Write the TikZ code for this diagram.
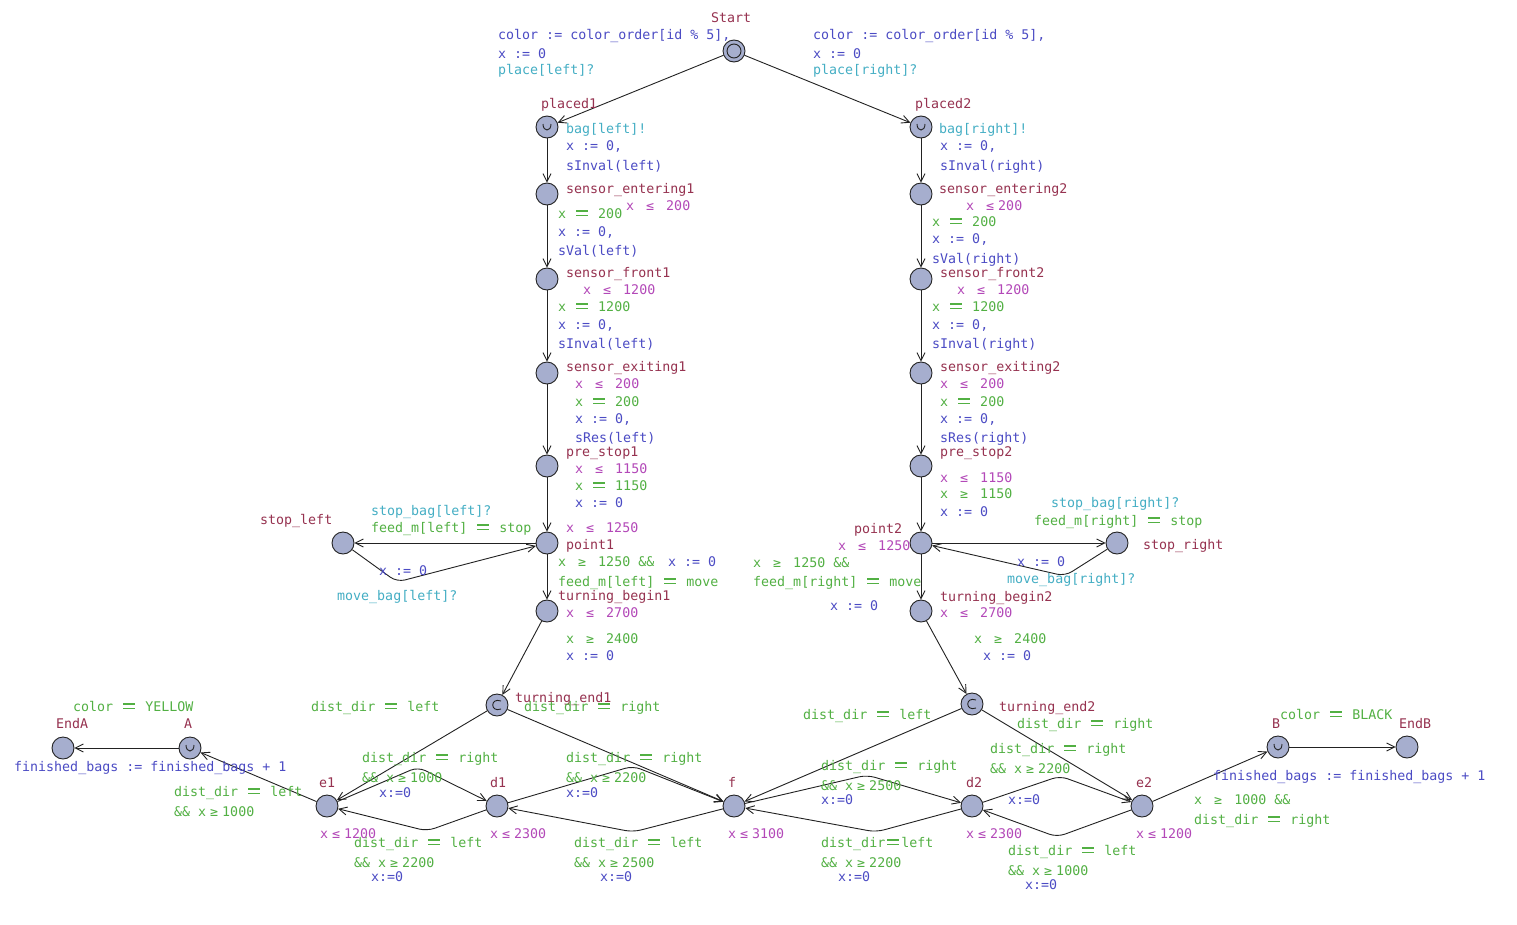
\documentclass[tikz,border=0pt]{standalone}
\usepackage{fontspec}
\newfontfamily\uppfont{DejaVu Sans Mono}
\usetikzlibrary{arrows.meta,calc}

\definecolor{namec}{HTML}{963250}
\definecolor{invc}{HTML}{B348B8}
\definecolor{grdc}{HTML}{52B043}
\definecolor{updc}{HTML}{4B4BC4}
\definecolor{sync}{HTML}{44AEC4}
\definecolor{locfill}{HTML}{A6AECE}
\definecolor{linec}{HTML}{222222}

% two-cell wide operators of the monospace label font
\newcommand\LEQ{\makebox[1.204em]{≤}}
\newcommand\GEQ{\makebox[1.204em]{≥}}
\newcommand\EQQ{\makebox[1.204em]{\rlap{\raisebox{0.17em}{\rule{0.9em}{0.09em}}}\raisebox{0.48em}{\rule{0.9em}{0.09em}}}}

% text labels: \tlabel{style}{left x}{middle y}{text}
\newcounter{lbl}
\newcommand\tlabelput[5]{\node[txt,#2] (#1) at ({#3},{#4+4}) {#5};}
\newcommand\tlabel[4]{\stepcounter{lbl}\edef\lbname{t\arabic{lbl}}\expandafter\tlabelput\expandafter{\lbname}{#1}{#2}{#3}{#4}}

% urgent (U) and committed (C) marks
\newcommand\urg[1]{\draw[sym] ($(#1)+(-4,-3)$) .. controls ($(#1)+(-4,5)$) and ($(#1)+(4,5)$) .. ($(#1)+(4,-3)$);}
\newcommand\cmt[1]{\draw[sym] ($(#1)+(4,-4)$) .. controls ($(#1)+(-7,-8)$) and ($(#1)+(-7,8)$) .. ($(#1)+(4,4)$);}

\tikzset{
  txt/.style={anchor=base west, inner sep=0pt, font=\uppfont\fontsize{13.3}{15}\selectfont},
  nm/.style={text=namec},
  inv/.style={text=invc},
  grd/.style={text=grdc},
  upd/.style={text=updc},
  syn/.style={text=sync},
  loc/.style={circle, draw=linec, line width=0.9pt, fill=locfill, minimum size=22pt, inner sep=0pt},
  sym/.style={draw=linec, line width=0.9pt},
  trans/.style={draw=linec, line width=0.9pt, rounded corners=8pt,
    -{Straight Barb[length=8pt,width=8pt,line width=0.9pt]}},
}

\begin{document}
\begin{tikzpicture}[x=1pt,y=-1pt]
\fill[white] (0,0) rectangle (1517,924);
\useasboundingbox (0,0) rectangle (1517,924);

% ---------- locations ----------
\node[loc] (start) at (734,51) {};
\draw[sym] (start.center) circle [radius=7];
\node[loc] (placed1) at (547,127) {};
\node[loc] (placed2) at (921,127) {};
\node[loc] (sent1) at (547,194) {};
\node[loc] (sent2) at (921,194) {};
\node[loc] (sfr1) at (547,279) {};
\node[loc] (sfr2) at (921,279) {};
\node[loc] (sex1) at (547,373) {};
\node[loc] (sex2) at (921,373) {};
\node[loc] (pre1) at (547,466) {};
\node[loc] (pre2) at (921,466) {};
\node[loc] (pt1) at (547,543) {};
\node[loc] (pt2) at (921,543) {};
\node[loc] (stopL) at (343,543) {};
\node[loc] (stopR) at (1117,543) {};
\node[loc] (tb1) at (547,611) {};
\node[loc] (tb2) at (921,611) {};
\node[loc] (te1) at (497,705) {};
\node[loc] (te2) at (972,704) {};
\node[loc] (e1) at (327,806) {};
\node[loc] (d1) at (497,806) {};
\node[loc] (f) at (734,806) {};
\node[loc] (d2) at (972,806) {};
\node[loc] (e2) at (1142,806) {};
\node[loc] (A) at (190,748) {};
\node[loc] (endA) at (63,748) {};
\node[loc] (B) at (1278,747) {};
\node[loc] (endB) at (1407,747) {};

\urg{placed1} \urg{placed2} \urg{A} \urg{B}
\cmt{te1} \cmt{te2}

% ---------- nails ----------
\coordinate (nL) at (397,582);
\coordinate (nR) at (1065,576);
\coordinate (ned) at (418,767);
\coordinate (nde) at (427,831);
\coordinate (ndf) at (633,766);
\coordinate (nfd) at (633,832);
\coordinate (nfd2) at (867,775);
\coordinate (ndf2) at (876,832);
\coordinate (nde2) at (1060,776);
\coordinate (ned2) at (1057,837);

% ---------- transitions ----------
\draw[trans] (start) -- (placed1);
\draw[trans] (start) -- (placed2);
\draw[trans] (placed1) -- (sent1);
\draw[trans] (sent1) -- (sfr1);
\draw[trans] (sfr1) -- (sex1);
\draw[trans] (sex1) -- (pre1);
\draw[trans] (pre1) -- (pt1);
\draw[trans] (pt1) -- (tb1);
\draw[trans] (tb1) -- (te1);
\draw[trans] (placed2) -- (sent2);
\draw[trans] (sent2) -- (sfr2);
\draw[trans] (sfr2) -- (sex2);
\draw[trans] (sex2) -- (pre2);
\draw[trans] (pre2) -- (pt2);
\draw[trans] (pt2) -- (tb2);
\draw[trans] (tb2) -- (te2);
\draw[trans] (pt1) -- (stopL);
\draw[trans] (stopL) -- (nL) -- (pt1);
\draw[trans] (pt2) -- (stopR);
\draw[trans] (stopR) -- (nR) -- (pt2);
\draw[trans] (te1) -- (e1);
\draw[trans] (te1) -- (f);
\draw[trans] (e1) -- (ned) -- (d1);
\draw[trans] (d1) -- (nde) -- (e1);
\draw[trans] (d1) -- (ndf) -- (f);
\draw[trans] (f) -- (nfd) -- (d1);
\draw[trans] (te2) -- (f);
\draw[trans] (te2) -- (e2);
\draw[trans] (f) -- (nfd2) -- (d2);
\draw[trans] (d2) -- (ndf2) -- (f);
\draw[trans] (d2) -- (nde2) -- (e2);
\draw[trans] (e2) -- (ned2) -- (d2);
\draw[trans] (e1) -- (A);
\draw[trans] (A) -- (endA);
\draw[trans] (e2) -- (B);
\draw[trans] (B) -- (endB);

% ---------- labels: start ----------
\tlabel{nm}{711}{18}{Start}
\tlabel{upd}{498}{35}{color := color\_order[id \% 5],}
\tlabel{upd}{498}{54}{x := 0}
\tlabel{syn}{498}{70}{place[left]?}
\tlabel{upd}{813}{35}{color := color\_order[id \% 5],}
\tlabel{upd}{813}{54}{x := 0}
\tlabel{syn}{813}{70}{place[right]?}

% ---------- labels: left belt ----------
\tlabel{nm}{541}{104}{placed1}
\tlabel{syn}{566}{129}{bag[left]!}
\tlabel{upd}{566}{146}{x := 0,}
\tlabel{upd}{566}{166}{sInval(left)}
\tlabel{nm}{566}{189}{sensor\_entering1}
\tlabel{inv}{626}{206}{x \LEQ{} 200}
\tlabel{grd}{558}{214}{x \EQQ{} 200}
\tlabel{upd}{558}{232}{x := 0,}
\tlabel{upd}{558}{251}{sVal(left)}
\tlabel{nm}{566}{273}{sensor\_front1}
\tlabel{inv}{583}{290}{x \LEQ{} 1200}
\tlabel{grd}{558}{307}{x \EQQ{} 1200}
\tlabel{upd}{558}{325}{x := 0,}
\tlabel{upd}{558}{344}{sInval(left)}
\tlabel{nm}{566}{367}{sensor\_exiting1}
\tlabel{inv}{575}{384}{x \LEQ{} 200}
\tlabel{grd}{575}{402}{x \EQQ{} 200}
\tlabel{upd}{575}{419}{x := 0,}
\tlabel{upd}{575}{438}{sRes(left)}
\tlabel{nm}{566}{452}{pre\_stop1}
\tlabel{inv}{575}{469}{x \LEQ{} 1150}
\tlabel{grd}{575}{486}{x \EQQ{} 1150}
\tlabel{upd}{575}{503}{x := 0}
\tlabel{inv}{566}{528}{x \LEQ{} 1250}
\tlabel{nm}{566}{545}{point1}
\tlabel{grd}{558}{562}{x \GEQ{} 1250 \&\&}
\tlabel{upd}{668}{562}{x := 0}
\tlabel{grd}{558}{582}{feed\_m[left] \EQQ{} move}
\tlabel{nm}{558}{596}{turning\_begin1}
\tlabel{inv}{566}{613}{x \LEQ{} 2700}
\tlabel{grd}{566}{639}{x \GEQ{} 2400}
\tlabel{upd}{566}{656}{x := 0}
\tlabel{nm}{260}{520}{stop\_left}
\tlabel{syn}{371}{511}{stop\_bag[left]?}
\tlabel{grd}{371}{528}{feed\_m[left] \EQQ{} stop}
\tlabel{upd}{379}{571}{x := 0}
\tlabel{syn}{337}{596}{move\_bag[left]?}

% ---------- labels: right belt ----------
\tlabel{nm}{915}{104}{placed2}
\tlabel{syn}{939}{129}{bag[right]!}
\tlabel{upd}{940}{146}{x := 0,}
\tlabel{upd}{940}{166}{sInval(right)}
\tlabel{nm}{939}{189}{sensor\_entering2}
\tlabel{inv}{966}{206}{x \LEQ{}200}
\tlabel{grd}{932}{222}{x \EQQ{} 200}
\tlabel{upd}{932}{239}{x := 0,}
\tlabel{upd}{932}{259}{sVal(right)}
\tlabel{nm}{940}{273}{sensor\_front2}
\tlabel{inv}{957}{290}{x \LEQ{} 1200}
\tlabel{grd}{932}{307}{x \EQQ{} 1200}
\tlabel{upd}{932}{325}{x := 0,}
\tlabel{upd}{932}{344}{sInval(right)}
\tlabel{nm}{940}{367}{sensor\_exiting2}
\tlabel{inv}{940}{384}{x \LEQ{} 200}
\tlabel{grd}{940}{402}{x \EQQ{} 200}
\tlabel{upd}{940}{419}{x := 0,}
\tlabel{upd}{940}{438}{sRes(right)}
\tlabel{nm}{940}{452}{pre\_stop2}
\tlabel{inv}{940}{478}{x \LEQ{} 1150}
\tlabel{grd}{940}{494}{x \GEQ{} 1150}
\tlabel{upd}{940}{512}{x := 0}
\tlabel{nm}{854}{529}{point2}
\tlabel{inv}{838}{546}{x \LEQ{} 1250}
\tlabel{grd}{753}{563}{x \GEQ{} 1250 \&\&}
\tlabel{grd}{753}{582}{feed\_m[right] \EQQ{} move}
\tlabel{upd}{830}{606}{x := 0}
\tlabel{nm}{940}{597}{turning\_begin2}
\tlabel{inv}{940}{613}{x \LEQ{} 2700}
\tlabel{grd}{974}{639}{x \GEQ{} 2400}
\tlabel{upd}{983}{656}{x := 0}
\tlabel{syn}{1051}{503}{stop\_bag[right]?}
\tlabel{grd}{1034}{521}{feed\_m[right] \EQQ{} stop}
\tlabel{nm}{1143}{545}{stop\_right}
\tlabel{upd}{1017}{562}{x := 0}
\tlabel{syn}{1007}{579}{move\_bag[right]?}

% ---------- labels: left turn ----------
\tlabel{nm}{515}{698}{turning\_end1}
\tlabel{grd}{524}{707}{dist\_dir \EQQ{} right}
\tlabel{grd}{311}{707}{dist\_dir \EQQ{} left}
\tlabel{grd}{362}{758}{dist\_dir \EQQ{} right}
\tlabel{grd}{362}{778}{\&\& x\GEQ{}1000}
\tlabel{upd}{379}{793}{x:=0}
\tlabel{nm}{319}{783}{e1}
\tlabel{nm}{490}{783}{d1}
\tlabel{inv}{320}{834}{x\LEQ{}1200}
\tlabel{grd}{354}{843}{dist\_dir \EQQ{} left}
\tlabel{grd}{354}{863}{\&\& x\GEQ{}2200}
\tlabel{upd}{371}{877}{x:=0}
\tlabel{inv}{490}{834}{x\LEQ{}2300}
\tlabel{grd}{566}{758}{dist\_dir \EQQ{} right}
\tlabel{grd}{566}{778}{\&\& x\GEQ{}2200}
\tlabel{upd}{566}{793}{x:=0}
\tlabel{nm}{728}{783}{f}
\tlabel{inv}{728}{834}{x\LEQ{}3100}
\tlabel{grd}{574}{843}{dist\_dir \EQQ{} left}
\tlabel{grd}{574}{863}{\&\& x\GEQ{}2500}
\tlabel{upd}{600}{877}{x:=0}
\tlabel{grd}{73}{707}{color \EQQ{} YELLOW}
\tlabel{nm}{56}{724}{EndA}
\tlabel{nm}{184}{724}{A}
\tlabel{upd}{14}{767}{finished\_bags := finished\_bags + 1}
\tlabel{grd}{174}{792}{dist\_dir \EQQ{} left}
\tlabel{grd}{174}{812}{\&\& x\GEQ{}1000}

% ---------- labels: right turn ----------
\tlabel{nm}{999}{707}{turning\_end2}
\tlabel{grd}{1017}{724}{dist\_dir \EQQ{} right}
\tlabel{grd}{803}{715}{dist\_dir \EQQ{} left}
\tlabel{grd}{821}{766}{dist\_dir \EQQ{} right}
\tlabel{grd}{821}{786}{\&\& x\GEQ{}2500}
\tlabel{upd}{821}{800}{x:=0}
\tlabel{grd}{990}{749}{dist\_dir \EQQ{} right}
\tlabel{grd}{990}{769}{\&\& x\GEQ{}2200}
\tlabel{upd}{1008}{800}{x:=0}
\tlabel{nm}{966}{783}{d2}
\tlabel{nm}{1136}{783}{e2}
\tlabel{inv}{966}{834}{x\LEQ{}2300}
\tlabel{inv}{1136}{834}{x\LEQ{}1200}
\tlabel{grd}{821}{843}{dist\_dir\EQQ{}left}
\tlabel{grd}{821}{863}{\&\& x\GEQ{}2200}
\tlabel{upd}{838}{877}{x:=0}
\tlabel{grd}{1008}{851}{dist\_dir \EQQ{} left}
\tlabel{grd}{1008}{871}{\&\& x\GEQ{}1000}
\tlabel{upd}{1025}{885}{x:=0}
\tlabel{nm}{1272}{724}{B}
\tlabel{grd}{1280}{715}{color \EQQ{} BLACK}
\tlabel{nm}{1399}{724}{EndB}
\tlabel{upd}{1213}{776}{finished\_bags := finished\_bags + 1}
\tlabel{grd}{1194}{800}{x \GEQ{} 1000 \&\&}
\tlabel{grd}{1194}{820}{dist\_dir \EQQ{} right}
\end{tikzpicture}
\end{document}
